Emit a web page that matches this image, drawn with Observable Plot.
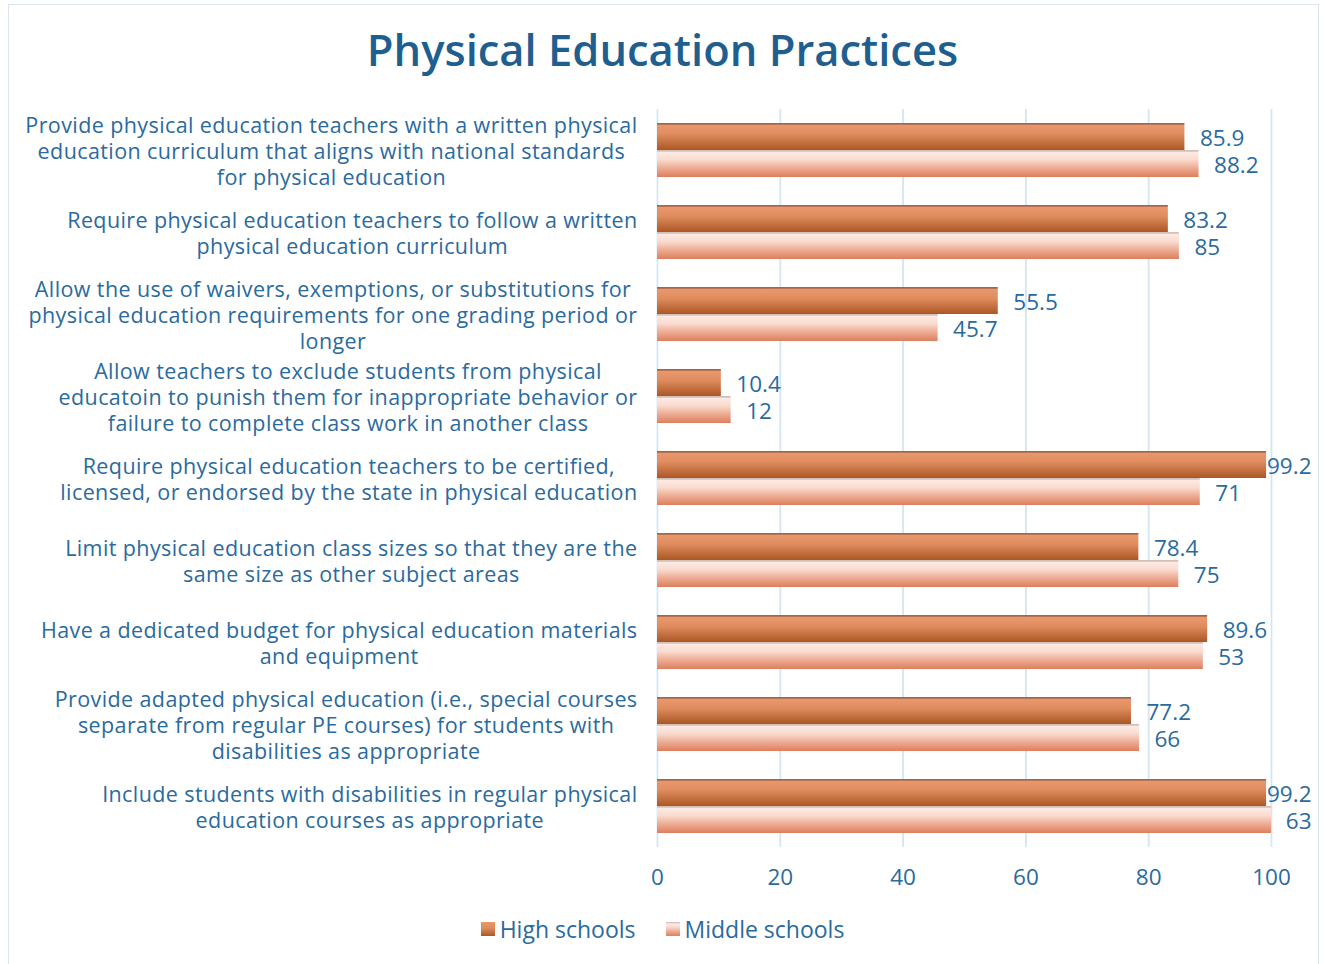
<!DOCTYPE html>
<html>
<head>
<meta charset="utf-8">
<script src="https://cdn.jsdelivr.net/npm/d3@7"></script>
<script src="https://cdn.jsdelivr.net/npm/@observablehq/plot@0.6"></script>
<style>
  body { margin: 0; background: #fff; font-family: "Open Sans", Lato, sans-serif; }
  #frame { position: absolute; left: 8px; top: 4px; width: 1311px; height: 975px; border: 1px solid #d9e6f2; box-sizing: border-box; }
  #title { position: absolute; left: 0; top: 28px; width: 1325px; text-align: center; font: 600 43.5px/43px "Open Sans", sans-serif; color: #1f5f8f; }
  #chart { position: absolute; left: 0; top: 95px; }
  #legend { position: absolute; left: 0; top: 913px; width: 1325px; display: flex; justify-content: center; align-items: center; font: 400 23px "Open Sans", sans-serif; color: #2a6a9e; }
  .item { display: flex; align-items: center; margin: 0 15px; }
  .sw { width: 14px; height: 14px; margin-right: 5px; }
</style>
</head>
<body>
<div id="frame"></div>
<div id="title">Physical Education Practices</div>
<div id="chart"></div>
<div id="legend"></div>
<script>
const categories = [
  "Provide physical education teachers with a written physical\neducation curriculum that aligns with national standards\nfor physical education",
  "Require physical education teachers to follow a written\nphysical education curriculum",
  "Allow the use of waivers, exemptions, or substitutions for\nphysical education requirements for one grading period or\nlonger",
  "Allow teachers to exclude students from physical\neducatoin to punish them for inappropriate behavior or\nfailure to complete class work in another class",
  "Require physical education teachers to be certified,\nlicensed, or endorsed by the state in physical education",
  "Limit physical education class sizes so that they are the\nsame size as other subject areas",
  "Have a dedicated budget for physical education materials\nand equipment",
  "Provide adapted physical education (i.e., special courses\nseparate from regular PE courses) for students with\ndisabilities as appropriate",
  "Include students with disabilities in regular physical\neducation courses as appropriate"
];
const seriesNames = ["High schools", "Middle schools"];
const highSchools = [85.9, 83.2, 55.5, 10.4, 99.2, 78.4, 89.6, 77.2, 99.2];
// printed data labels for middle schools
const middleSchools = [88.2, 85, 45.7, 12, 71, 75, 53, 66, 63];
// bar lengths as drawn in the original picture for middle schools
const middleSchoolBarLengths = [88.2, 85, 45.7, 12, 88.4, 84.9, 88.9, 78.5, 100];
const xTicks = [0, 20, 40, 60, 80, 100];

const rows = categories.map((c, i) => ({
  category: c,
  hs: highSchools[i],
  ms: middleSchools[i],
  msBar: middleSchoolBarLengths[i]
}));

const defs = () => {
  const d = d3.create("svg:defs");
  const g1 = d.append("linearGradient").attr("id", "gHS").attr("x1", 0).attr("x2", 0).attr("y1", 0).attr("y2", 1);
  [["0%", "#a3664a"], ["5%", "#a3664a"], ["7%", "#e9986c"], ["40%", "#e08e60"], ["100%", "#ac5625"]]
    .forEach(([o, c]) => g1.append("stop").attr("offset", o).attr("stop-color", c));
  const g2 = d.append("linearGradient").attr("id", "gMS").attr("x1", 0).attr("x2", 0).attr("y1", 0).attr("y2", 1);
  [["0%", "#cbbcb4"], ["5%", "#d9c6bd"], ["9%", "#fde9e2"], ["35%", "#f9dcd0"], ["65%", "#eeae96"], ["100%", "#dc7f5d"]]
    .forEach(([o, c]) => g2.append("stop").attr("offset", o).attr("stop-color", c));
  return d.node();
};

const labelColor = "#2a6a9e";
const fontFamily = "'Open Sans', sans-serif";

const plot = Plot.plot({
  width: 1325,
  height: 800,
  marginTop: 14,
  marginBottom: 48,
  marginLeft: 657,
  marginRight: 54,
  style: { fontFamily, fontSize: "22.5px", color: labelColor, background: "transparent" },
  x: { domain: [0, 100], ticks: xTicks, tickSize: 0, tickPadding: 22, label: null, line: false },
  y: { domain: categories, padding: 0, axis: null },
  marks: [
    defs,
    Plot.ruleX(xTicks, { stroke: "#d4e5f5", strokeWidth: 1.8 }),
    Plot.barX(rows, { x: "hs", y: "category", insetTop: 14, insetBottom: 41, fill: "url(#gHS)" }),
    Plot.barX(rows, { x: "msBar", y: "category", insetTop: 41, insetBottom: 14, fill: "url(#gMS)" }),
    // value labels
    Plot.text(rows.filter(d => d.hs < 95), { x: "hs", y: "category", text: d => String(d.hs), dy: -12, dx: 15, textAnchor: "start", fontSize: 22.5, fill: labelColor }),
    Plot.text(rows.filter(d => d.hs >= 95), { y: "category", text: d => String(d.hs), frameAnchor: "right", dy: -12, dx: 40, textAnchor: "end", fontSize: 22.5, fill: labelColor }),
    Plot.text(rows.filter(d => d.msBar < 95), { x: "msBar", y: "category", text: d => String(d.ms), dy: 15, dx: 15, textAnchor: "start", fontSize: 22.5, fill: labelColor }),
    Plot.text(rows.filter(d => d.msBar >= 95), { y: "category", text: d => String(d.ms), frameAnchor: "right", dy: 15, dx: 40, textAnchor: "end", fontSize: 22.5, fill: labelColor }),
    // category labels
    Plot.text(categories, { y: d => d, text: d => d, frameAnchor: "left", dx: -20, textAnchor: "end", lineAnchor: "middle", lineHeight: 1.21, fontSize: 21.5, fill: labelColor, ariaDescription: "category-label" })
  ]
});

document.getElementById("chart").appendChild(plot);

// center each label's lines within its own block, block right-aligned to axis
plot.querySelectorAll('g[aria-description="category-label"] text').forEach(t => {
  t.style.letterSpacing = "0.4px";
  const w = t.getBBox().width;
  t.setAttribute("text-anchor", "middle");
  const tr = t.getAttribute("transform") || "";
  t.setAttribute("transform", tr + ` translate(${-w / 2},0)`);
});

// legend
const legend = document.getElementById("legend");
const swatchFill = [
  "linear-gradient(#e9986c, #e08e60 40%, #ac5625)",
  "linear-gradient(#cbbcb4, #fde9e2 15%, #f9dcd0 35%, #eeae96 65%, #dc7f5d)"
];
seriesNames.forEach((name, i) => {
  const item = document.createElement("div");
  item.className = "item";
  const sw = document.createElement("div");
  sw.className = "sw";
  sw.style.background = swatchFill[i];
  const lab = document.createElement("span");
  lab.textContent = name;
  item.appendChild(sw);
  item.appendChild(lab);
  legend.appendChild(item);
});
</script>
</body>
</html>
